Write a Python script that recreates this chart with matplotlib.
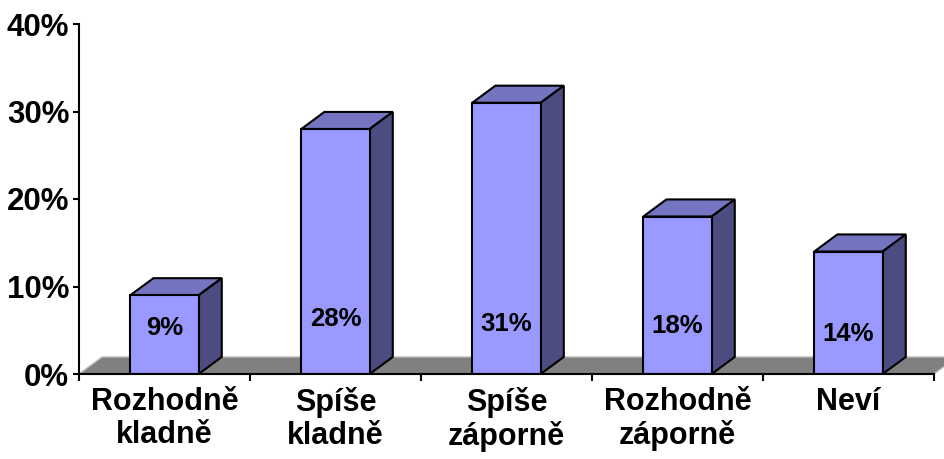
import numpy as np
import matplotlib.pyplot as plt
from matplotlib.patches import Polygon

# data
kategorie = ["Rozhodně\nkladně", "Spíše\nkladně", "Spíše\nzáporně", "Rozhodně\nzáporně", "Neví"]
hodnoty = [9, 28, 31, 18, 14]
popisky = ["9%", "28%", "31%", "18%", "14%"]
osa_y = [0, 10, 20, 30, 40]

# styl
predni = "#9999ff"
vrch = "#7474c0"
bok = "#4c4c80"
sirka = 0.4
hloubka_x = 0.135   # posun do hloubky (kategorie)
hloubka_y = 1.95    # posun do hloubky (%)
vyska_popisku = [5.3, 6.3, 5.7, 5.5, 4.6]

plt.rcParams['font.family'] = ['Liberation Sans', 'DejaVu Sans']
plt.rcParams['font.weight'] = 'bold'

fig = plt.figure(figsize=(9.44, 4.59), dpi=100)
ax = fig.add_axes([79/944, 85/459, 855/944, 350/459])
ax.set_xlim(-0.5, 4.5)
ax.set_ylim(0, 40)

# podlaha
n = len(hodnoty)
podlaha = Polygon([(-0.5, 0), (-0.5 + hloubka_x, hloubka_y),
                   (n - 0.5 + hloubka_x, hloubka_y), (n - 0.5, 0)],
                  closed=True, facecolor="#808080", edgecolor="#c0c0c0",
                  linewidth=1, clip_on=False, zorder=1)
ax.add_patch(podlaha)

# sloupce
for i, v in enumerate(hodnoty):
    x0 = i - sirka / 2
    x1 = i + sirka / 2
    ax.bar(i, v, width=sirka, color=predni, edgecolor="black", linewidth=1.5, zorder=3)
    top = Polygon([(x0, v), (x1, v), (x1 + hloubka_x, v + hloubka_y), (x0 + hloubka_x, v + hloubka_y)],
                  closed=True, facecolor=vrch, edgecolor="black", linewidth=1.5, zorder=2)
    side = Polygon([(x1, 0), (x1 + hloubka_x, hloubka_y), (x1 + hloubka_x, v + hloubka_y), (x1, v)],
                   closed=True, facecolor=bok, edgecolor="black", linewidth=1.5, zorder=2)
    ax.add_patch(top)
    ax.add_patch(side)
    ax.text(i, vyska_popisku[i], popisky[i], ha="center", va="center",
            fontsize=18.5, fontweight="bold", zorder=4)

# osy
for s in ["top", "right"]:
    ax.spines[s].set_visible(False)
ax.spines["left"].set_linewidth(1.5)
ax.spines["bottom"].set_linewidth(1.5)
ax.spines["left"].set_zorder(5)
ax.spines["bottom"].set_zorder(5)

ax.set_yticks(osa_y)
ax.set_yticklabels([f"{t}%" for t in osa_y])
ax.tick_params(axis="y", length=4, width=1.5, pad=3, labelsize=22.5)

ax.set_xticks(np.arange(-0.5, n, 1.0))
ax.set_xticklabels([])
ax.tick_params(axis="x", which="major", length=5, width=1.5)
ax.set_xticks(np.arange(n), minor=True)
ax.set_xticklabels(kategorie, minor=True, fontsize=22, fontweight="bold", linespacing=1.15)
ax.tick_params(axis="x", which="minor", length=0, pad=9)

plt.savefig("out.png", dpi=100)
